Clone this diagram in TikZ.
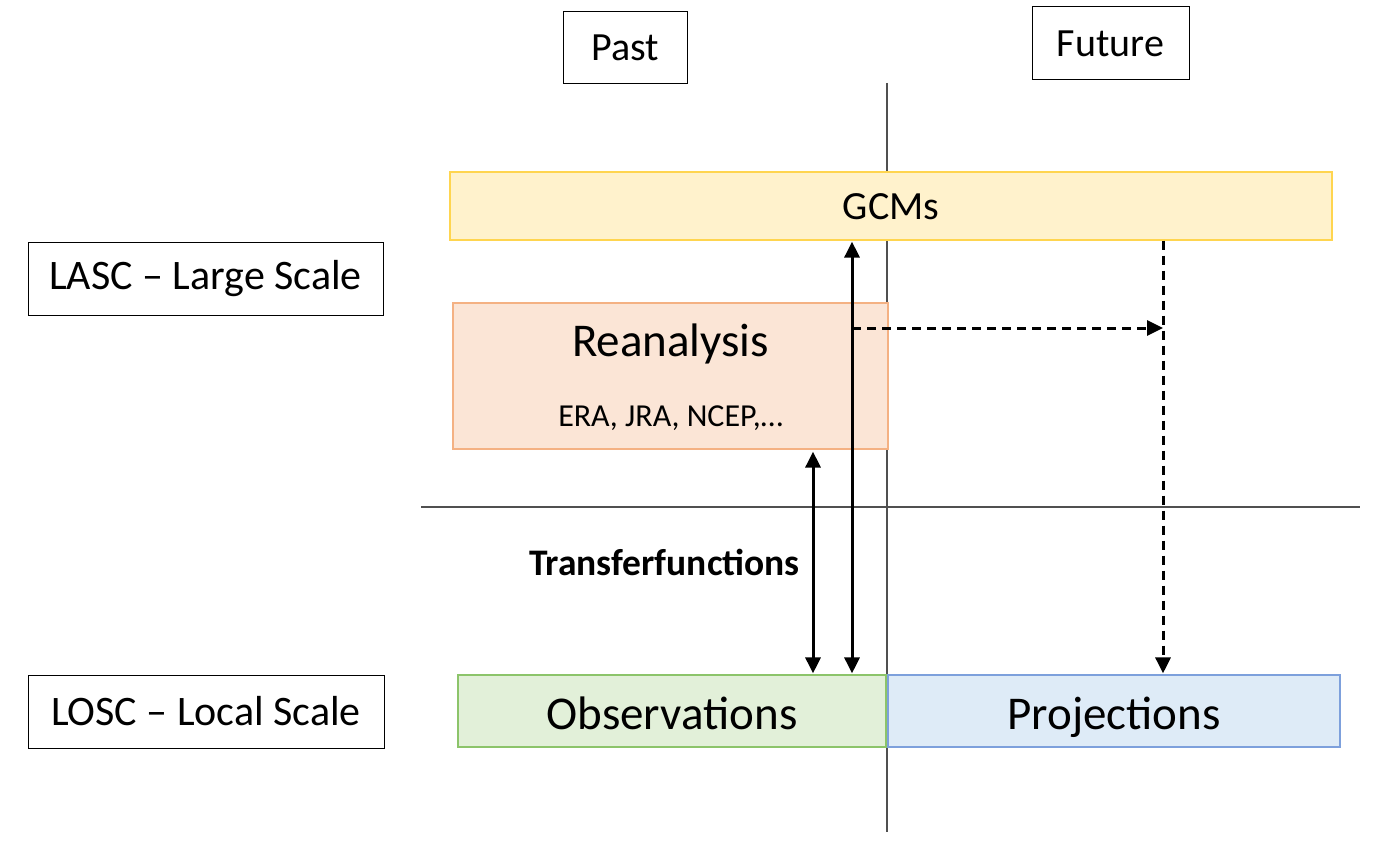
\documentclass[tikz,border=0pt]{standalone}
\usepackage{fontspec}
\setmainfont{Carlito}
\usetikzlibrary{arrows.meta}
\definecolor{gcmfill}{HTML}{FFF2CC}
\definecolor{gcmdraw}{HTML}{FFD54F}
\definecolor{reafill}{HTML}{FBE5D6}
\definecolor{readraw}{HTML}{F4B183}
\definecolor{obsfill}{HTML}{E2F0D9}
\definecolor{obsdraw}{HTML}{8CC46A}
\definecolor{projfill}{HTML}{DEEBF7}
\definecolor{projdraw}{HTML}{7DA0DC}
\definecolor{axisline}{HTML}{505050}
\tikzset{
  labelbox/.style={draw=black, line width=1pt, inner sep=0pt, font=\fontsize{42}{50}\selectfont},
  colbox/.style={line width=1.2pt, inner sep=0pt},
  bigtext/.style={font=\fontsize{47}{56}\selectfont, text height=40pt, text depth=4pt},
  arr/.style={line width=3pt, -{Triangle[length=16pt,width=15pt]}},
  darr/.style={line width=3pt, {Triangle[length=16pt,width=15pt]}-{Triangle[length=16pt,width=15pt]}},
  dash arr/.style={arr, dash pattern=on 9pt off 6pt},
  axis/.style={draw=axisline, line width=1.2pt}
}
\begin{document}
\begin{tikzpicture}[x=1pt,y=-1pt]
\useasboundingbox (0,0) rectangle (1393,851);
% axes
\coordinate (vtop) at (887,83);
\coordinate (vbot) at (887,832);
\coordinate (hl) at (421,507);
\coordinate (hr) at (1360,507);
\draw[axis] (vtop) -- (vbot);
\draw[axis] (hl) -- (hr);
% header boxes
\node[labelbox, font=\fontsize{40}{48}\selectfont, minimum width=124pt, minimum height=72pt] (past) at (625,48) {Past};
\node[labelbox, font=\fontsize{40}{48}\selectfont, minimum width=157pt, minimum height=73pt] (future) at (1110.5,43.5) {Future};
\node[labelbox, minimum width=355pt, minimum height=73pt] (lasc) at (205.5,278.5) {LASC -- Large Scale};
\node[labelbox, minimum width=356pt, minimum height=73pt] (losc) at (206,711.5) {LOSC -- Local Scale};
% colored boxes
\node[colbox, draw=gcmdraw, fill=gcmfill, minimum width=882pt, minimum height=68pt,
  font=\fontsize{40}{48}\selectfont, text height=30pt, text depth=4pt] (gcm) at (891,206) {GCMs};
\node[colbox, draw=readraw, fill=reafill, minimum width=435pt, minimum height=146pt] (rea) at (670.5,376) {};
\node[font=\fontsize{47}{56}\selectfont] (reat) at (670.5,344) {Reanalysis};
\node[font=\fontsize{32}{38}\selectfont] (reas) at (670.5,418) {ERA, JRA, NCEP,\dots};
\node[colbox, draw=obsdraw, fill=obsfill, minimum width=428pt, minimum height=72pt, bigtext] (obs) at (672,711) {Observations};
\node[colbox, draw=projdraw, fill=projfill, minimum width=452pt, minimum height=72pt, bigtext] (proj) at (1114,711) {Projections};
% label
\node[font=\bfseries\fontsize{37.5}{45}\selectfont] (tf) at (664.5,562) {Transferfunctions};
% arrows
\coordinate (ax1) at (813,0);
\coordinate (ax2) at (852,0);
\coordinate (ds) at (852,328);
\coordinate (dd) at (1163,328);
\draw[darr, shorten <=2pt, shorten >=1pt] (rea.south -| ax1) -- (obs.north -| ax1);
\draw[darr, shorten <=1pt, shorten >=1pt] (gcm.south -| ax2) -- (obs.north -| ax2);
\draw[dash arr] (ds) -- (dd);
\draw[dash arr, shorten >=1pt] (gcm.south -| dd) -- (proj.north -| dd);
\end{tikzpicture}
\end{document}
